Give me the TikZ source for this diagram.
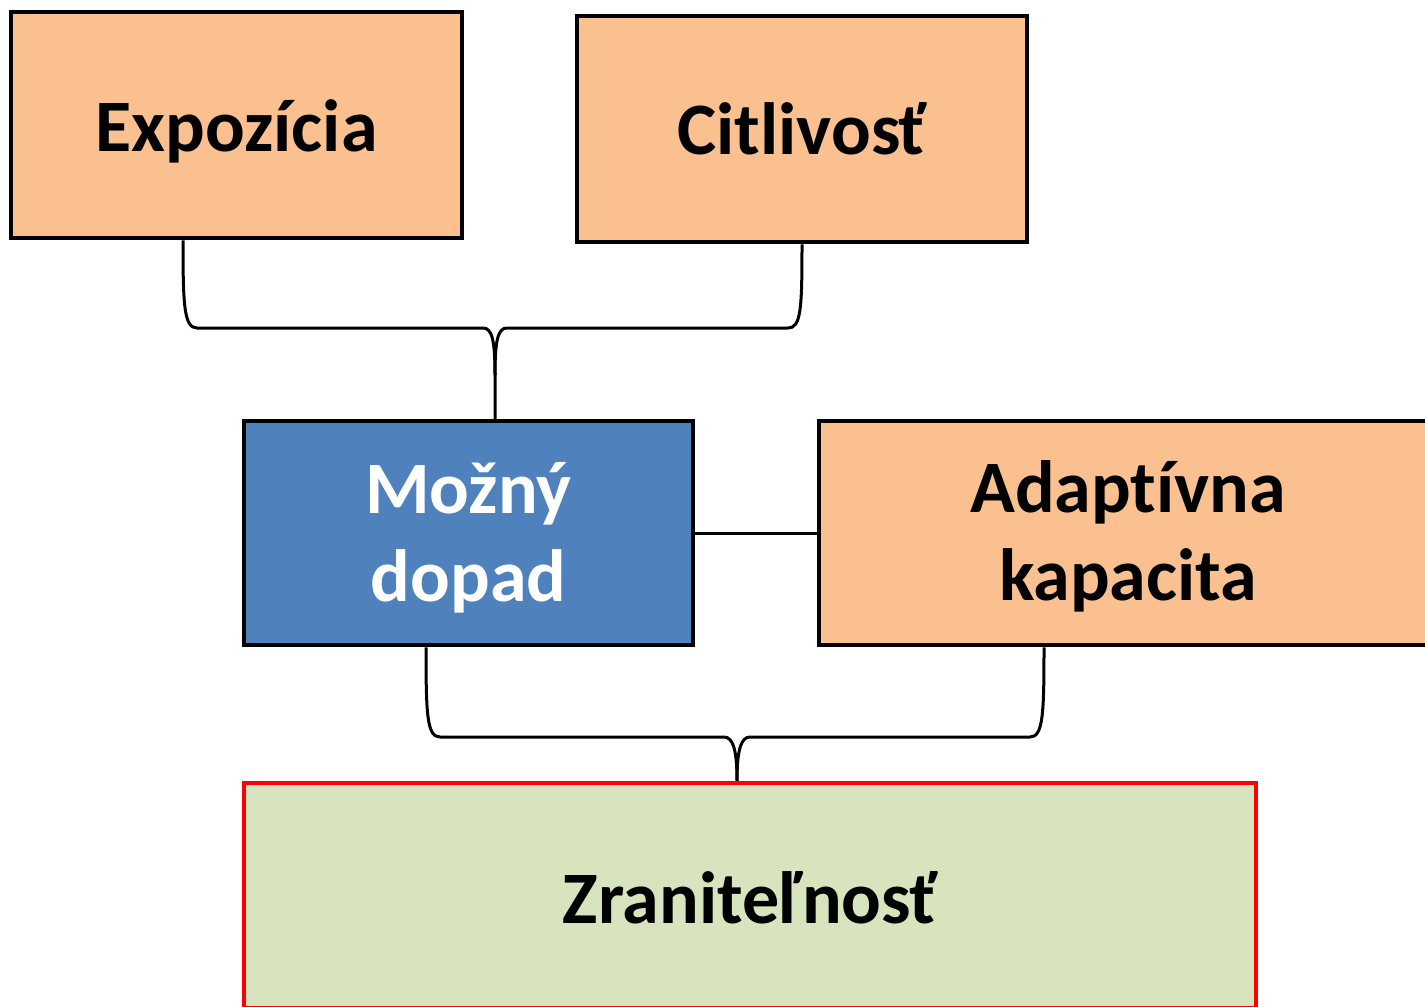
\documentclass[tikz,border=0pt]{standalone}
\usepackage{fontspec}
\setmainfont{Carlito}[Ligatures={NoCommon,NoContextual}]
\definecolor{peach}{HTML}{FAC090}
\definecolor{blueb}{HTML}{4F81BD}
\definecolor{greenb}{HTML}{D7E4BD}
\definecolor{redb}{HTML}{FF0000}
\newcommand{\shiftdown}[2]{\raisebox{#1}[\height][\depth]{#2}}
\newcommand{\mylines}[2]{\raisebox{#1}[\height][\depth]{\begin{tabular}{@{}c@{}}#2\end{tabular}}}
\begin{document}
\begin{tikzpicture}[x=1pt,y=-1pt,
  box/.style={rectangle, draw=black, line width=4.5pt, inner sep=0pt, align=center,
    font=\fontsize{74}{88}\selectfont\bfseries},
  conn/.style={draw=black, line width=3pt}]
\useasboundingbox (0,0) rectangle (1425,1007);
\node[box, fill=peach, minimum width=451pt, minimum height=226pt] (exp) at (236.5,125) {\shiftdown{-6pt}{Expozícia}};
\node[box, fill=peach, minimum width=450pt, minimum height=226pt] (cit) at (802,129) {Citlivosť};
\node[box, fill=blueb, text=white, minimum width=449pt, minimum height=224pt] (mz) at (468.5,533) {\mylines{-7pt}{Možný\\dopad}};
\node[box, fill=peach, minimum width=618pt, minimum height=224pt] (ad) at (1128,533) {\mylines{-6pt}{Adapt\kern0ptívna\\kapacita}};
\node[box, draw=redb, fill=greenb, minimum width=1012pt, minimum height=225pt] (zr) at (750,895.5) {\shiftdown{-2pt}{Zraniteľnosť}};
% top brace
\draw[conn] ([xshift=-53.5pt]exp.south) .. controls (183,305) and (184,328) .. (197,328)
  -- (483,328) .. controls (492,328) and (495,340) .. (495,375) -- ([xshift=26.5pt]mz.north);
\draw[conn] (cit.south) .. controls (802,309) and (801,328) .. (788,328)
  -- (507,328) .. controls (498,328) and (495,340) .. (495,375);
% middle link
\draw[conn] (mz.east) -- (ad.west);
% bottom brace
\draw[conn] ([xshift=-42.5pt]mz.south) .. controls (426,715) and (427,737) .. (440,737)
  -- (724,737) .. controls (733,737) and (737,750) .. ([xshift=-13pt]zr.north);
\draw[conn] ([xshift=-84pt]ad.south) .. controls (1044,715) and (1043,737) .. (1030,737)
  -- (750,737) .. controls (741,737) and (737,750) .. ([xshift=-13pt]zr.north);
\end{tikzpicture}
\end{document}
